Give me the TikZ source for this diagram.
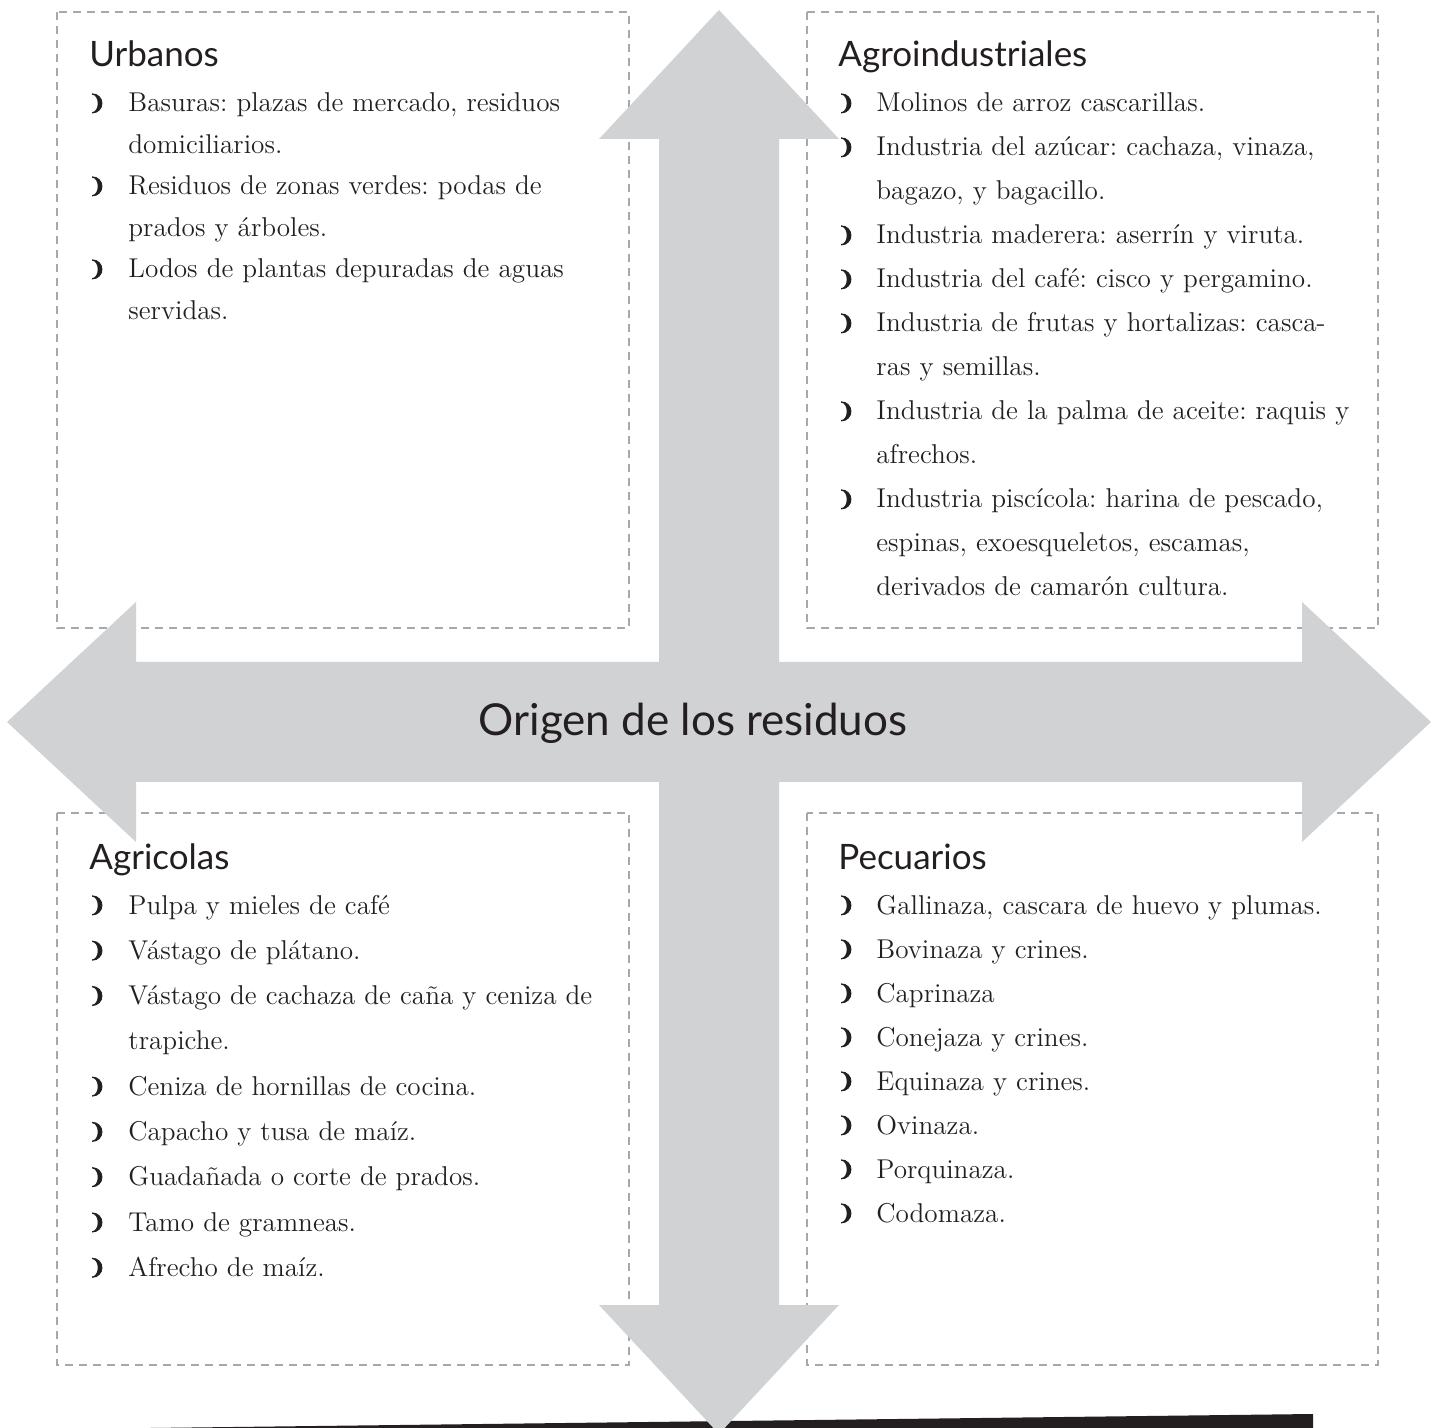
\documentclass[tikz,border=0pt]{standalone}
\usepackage{fontspec}
\usepackage{tikz}
\usetikzlibrary{positioning}
\newfontfamily\headfont{Lato}
\newfontfamily\symfont[FakeBold=4]{DejaVu Sans}
\definecolor{flecha}{HTML}{D1D2D4}
\definecolor{raya}{HTML}{A7A8AB}
\definecolor{tinta}{HTML}{231F20}
\frenchspacing
\tikzset{caja/.style={draw=raya,line width=1pt,dash pattern=on 4pt off 3pt},
titulo/.style={anchor=base west,inner sep=0pt,text=tinta,font=\headfont\fontsize{17.5}{20}\selectfont},
itm/.style={anchor=base west,inner sep=0pt,text=tinta,text width=300pt,align=left,
font=\fontsize{13.6}{#1}\selectfont},itm/.default=22pt,
bul/.style={anchor=base west,inner sep=0pt,text=tinta,font=\symfont\fontsize{10.5}{11}\selectfont,yshift=1pt}}
\tikzstyle{centro} = [anchor=base,inner sep=0pt,text=tinta,font=\headfont\fontsize{22}{24}\selectfont]

\begin{document}
\begin{tikzpicture}[x=0.5pt,y=-0.5pt]
\useasboundingbox (0,0) rectangle (1437,1428);
\draw[caja] (57,12) rectangle (629,628);
\draw[caja] (807,12) rectangle (1378,628);
\draw[caja] (57,813) rectangle (629,1365);
\draw[caja] (807,813) rectangle (1378,1365);

\fill[tinta] (150,1428) -- (1313,1414) -- (1313,1428) -- cycle;
\fill[flecha] (719,10) -- (839,139) -- (779,139) -- (779,662) -- (1302,662) -- (1302,602)
  -- (1431,722) -- (1302,842) -- (1302,782) -- (779,782) -- (779,1305) -- (839,1305)
  -- (719,1434) -- (599,1305) -- (659,1305) -- (659,782) -- (136,782) -- (136,842)
  -- (7,722) -- (136,602) -- (136,662) -- (659,662) -- (659,139) -- (599,139) -- cycle;

\node[centro] (origen) at (693,736) {Origen de los residuos};

\node[titulo] (urbanos) at (89,67) {Urbanos};
\foreach \n/\t in {
    0/{Basuras: plazas de mercado, residuos\\domiciliarios.},
    2/{Residuos de zonas verdes: podas de\\prados y árboles.},
    4/{Lodos de plantas depuradas de aguas\\servidas.}}
  \node[bul] (ub\n) at (88,{112+41.5*\n}) {❩}
  node[itm=20.75pt] (u\n) at (128,{112+41.5*\n}) {\t};

\node[titulo] (agro) at (838,67) {Agroindustriales};
\foreach \n/\t in {
    0/{Molinos de arroz cascarillas.},
    1/{Industria del azúcar: cachaza, vinaza,\\bagazo, y bagacillo.},
    3/{Industria maderera: aserrín y viruta.},
    4/{Industria del café: cisco y pergamino.},
    5/{Industria de frutas y hortalizas: casca-\\ras y semillas.},
    7/{Industria de la palma de aceite: raquis y\\afrechos.},
    9/{Industria piscícola: harina de pescado,\\espinas, exoesqueletos, escamas,\\derivados de camarón cultura.}}
  \node[bul] (ab\n) at (837,{112+44*\n}) {❩}
  node[itm] (a\n) at (876,{112+44*\n}) {\t};

\node[titulo] (agricolas) at (89,870) {Agricolas};
\foreach \n/\t in {
    0/{Pulpa y mieles de café},
    1/{Vástago de plátano.},
    2/{Vástago de cachaza de caña y ceniza de\\trapiche.},
    4/{Ceniza de hornillas de cocina.},
    5/{Capacho y tusa de maíz.},
    6/{Guadañada o corte de prados.},
    7/{Tamo de gramneas.},
    8/{Afrecho de maíz.}}
  \node[bul] (gb\n) at (88,{914+45.3*\n}) {❩}
  node[itm=22.65pt] (g\n) at (128,{914+45.3*\n}) {\t};

\node[titulo] (pecuarios) at (838,870) {Pecuarios};
\foreach \n/\t in {
    0/{Gallinaza, cascara de huevo y plumas.},
    1/{Bovinaza y crines.},
    2/{Caprinaza},
    3/{Conejaza y crines.},
    4/{Equinaza y crines.},
    5/{Ovinaza.},
    6/{Porquinaza.},
    7/{Codomaza.}}
  \node[bul] (pb\n) at (837,{914+44*\n}) {❩}
  node[itm] (p\n) at (876,{914+44*\n}) {\t};
\end{tikzpicture}
\end{document}
